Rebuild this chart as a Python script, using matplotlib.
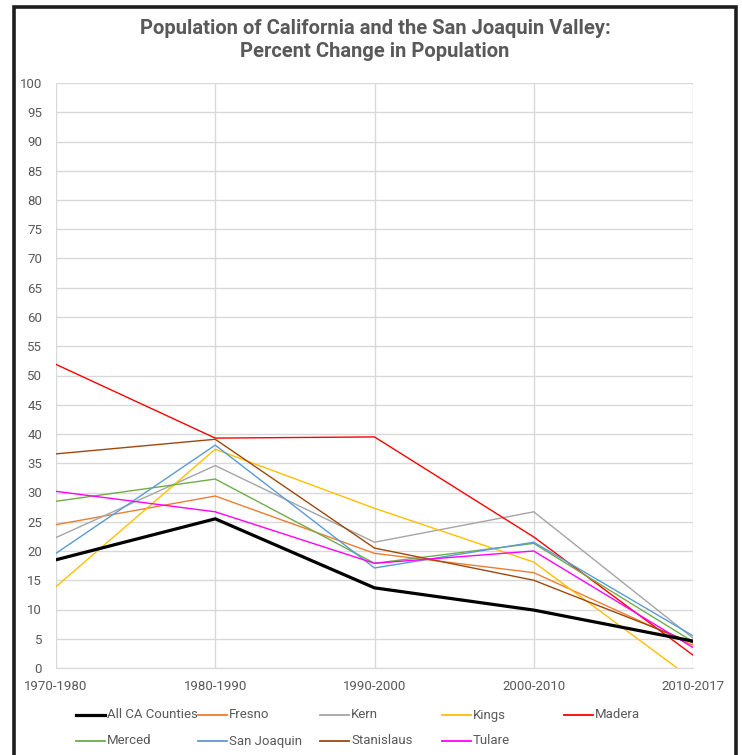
import matplotlib
matplotlib.use("Agg")
import matplotlib.pyplot as plt
from matplotlib.lines import Line2D

plt.rcParams['font.family'] = ['Liberation Sans Narrow', 'Roboto', 'DejaVu Sans']

periods = ["1970-1980", "1980-1990", "1990-2000", "2000-2010", "2010-2017"]

all_ca = [18.5, 25.5, 13.7, 9.9, 4.6]
fresno = [24.5, 29.4, 19.6, 16.3, 3.9]
kern = [22.3, 34.6, 21.5, 26.7, 5.1]
kings = [13.9, 37.4, 27.3, 18.1, -2.0]
madera = [51.9, 39.3, 39.5, 22.4, 2.2]
merced = [28.5, 32.3, 17.9, 21.3, 4.5]
san_joaquin = [19.6, 38.1, 17.1, 21.5, 5.5]
stanislaus = [36.6, 39.1, 20.5, 15.0, 4.3]
tulare = [30.2, 26.7, 17.9, 20.0, 3.5]

names = ["All CA Counties", "Fresno", "Kern", "Kings", "Madera",
         "Merced", "San Joaquin", "Stanislaus", "Tulare"]
series = [all_ca, fresno, kern, kings, madera, merced, san_joaquin, stanislaus, tulare]
colors = ["#000000", "#ED7D31", "#A5A5A5", "#FFC000", "#FF0000",
          "#70AD47", "#5B9BD5", "#9E480E", "#FF00FF"]
widths = [2.3, 1.0, 1.0, 1.0, 1.0, 1.0, 1.0, 1.0, 1.0]

W, H = 742, 755
fig = plt.figure(figsize=(W / 100, H / 100), dpi=100)
ax = fig.add_axes([56 / W, 1 - 668 / H, (693 - 56) / W, (668 - 83) / H])

x = range(len(periods))
for vals, c, lw in zip(series, colors, widths):
    ax.plot(x, vals, color=c, lw=lw, zorder=3 if c == "#000000" else 2,
            solid_joinstyle='miter')

ax.set_xlim(0, len(periods) - 1)
ax.set_ylim(0, 100)
ax.set_yticks(range(0, 101, 5))
ax.set_xticks(list(x))
ax.set_xticklabels(periods)
ax.grid(True, color="#d9d9d9", lw=1.0)
ax.set_axisbelow(True)
for s in ax.spines.values():
    s.set_visible(False)
ax.spines['bottom'].set_visible(True)
ax.spines['bottom'].set_color("#d9d9d9")
ax.tick_params(length=0, colors="#595959", labelsize=9.5)
ax.tick_params(axis='y', pad=10)
ax.tick_params(axis='x', pad=9)

fig.text(375 / W, 1 - 40 / H,
         "Population of California and the San Joaquin Valley:\nPercent Change in Population",
         ha='center', va='center', fontsize=14.5, fontweight='bold',
         color="#595959", linespacing=1.25)

# legend laid out in an even grid, five entries per row
for i, (name, c) in enumerate(zip(names, colors)):
    col, row = i % 5, i // 5
    x0 = 76 + col * 122
    y0 = 715 + row * 26
    fig.add_artist(Line2D([x0 / W, (x0 + 29) / W], [1 - y0 / H, 1 - y0 / H],
                          transform=fig.transFigure, color=c,
                          lw=2.3 if i == 0 else 1.3))
    fig.text((x0 + 31) / W, 1 - y0 / H, name, ha='left', va='center',
             fontsize=9.5, color="#595959")

# dark frame around the chart
fig.add_artist(Line2D([13.5 / W, 13.5 / W, 736 / W, 736 / W],
                      [0, 1 - 6.5 / H, 1 - 6.5 / H, 0],
                      transform=fig.transFigure, color="#1e1e1e", lw=2.6,
                      solid_joinstyle='miter'))

fig.savefig("out.png", dpi=100)
